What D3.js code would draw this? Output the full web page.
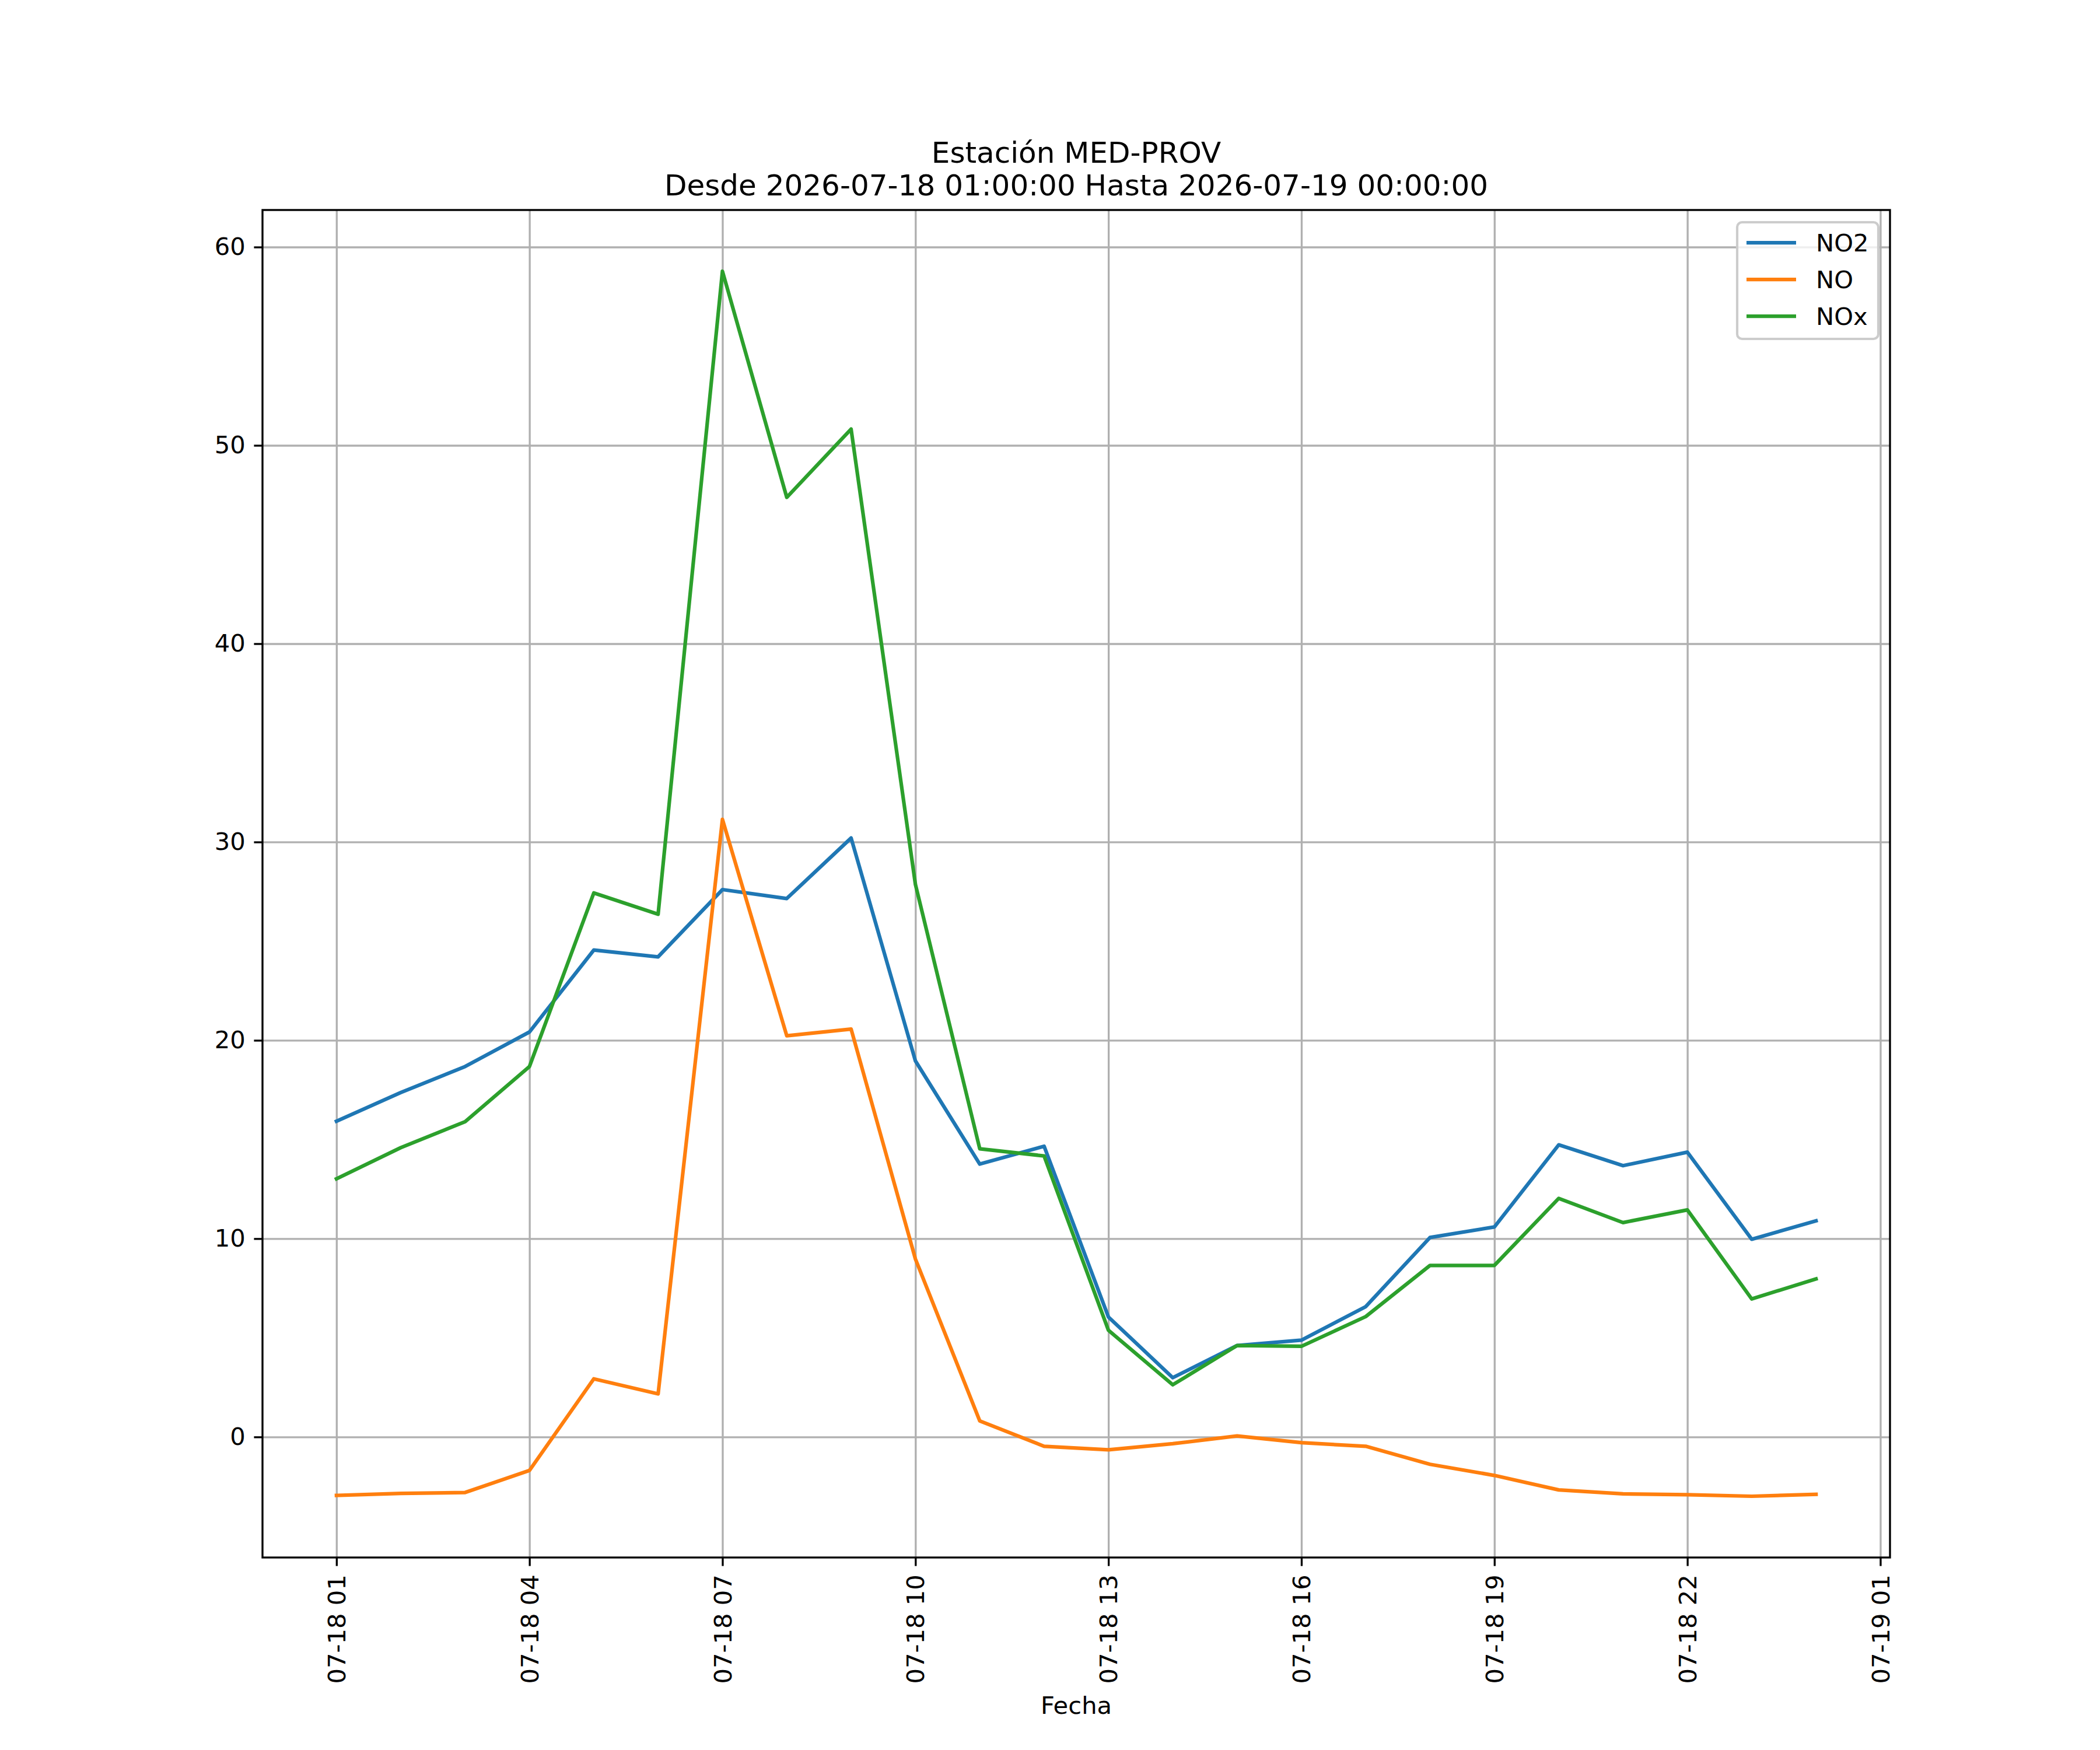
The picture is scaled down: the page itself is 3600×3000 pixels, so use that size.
<!DOCTYPE html>
<html>
<head>
<meta charset="utf-8">
<script src="https://cdn.jsdelivr.net/npm/d3@7"></script>
<style>
  body { margin: 0; background: #fff; }
  text { font-family: "DejaVu Sans", sans-serif; }
</style>
</head>
<body>
<svg id="chart"></svg>
<script>
// hourly timestamps (UTC)
const hours = [
  "2026-07-18T01:00Z", "2026-07-18T02:00Z", "2026-07-18T03:00Z", "2026-07-18T04:00Z",
  "2026-07-18T05:00Z", "2026-07-18T06:00Z", "2026-07-18T07:00Z", "2026-07-18T08:00Z",
  "2026-07-18T09:00Z", "2026-07-18T10:00Z", "2026-07-18T11:00Z", "2026-07-18T12:00Z",
  "2026-07-18T13:00Z", "2026-07-18T14:00Z", "2026-07-18T15:00Z", "2026-07-18T16:00Z",
  "2026-07-18T17:00Z", "2026-07-18T18:00Z", "2026-07-18T19:00Z", "2026-07-18T20:00Z",
  "2026-07-18T21:00Z", "2026-07-18T22:00Z", "2026-07-18T23:00Z", "2026-07-19T00:00Z"
];
const no2 = [15.92, 17.37, 18.68, 20.42, 24.55, 24.21, 27.6, 27.15, 30.2, 18.96, 13.76, 14.66,
             6.05, 2.99, 4.61, 4.88, 6.57, 10.06, 10.59, 14.73, 13.68, 14.36, 9.97, 10.9];
const no = [-2.95, -2.85, -2.8, -1.69, 2.93, 2.17, 31.14, 20.23, 20.57, 8.97, 0.81, -0.47,
            -0.65, -0.34, 0.05, -0.29, -0.47, -1.38, -1.94, -2.67, -2.87, -2.91, -2.99, -2.89];
const nox = [13.02, 14.59, 15.9, 18.68, 27.43, 26.36, 58.78, 47.38, 50.82, 27.86, 14.53, 14.17,
             5.38, 2.63, 4.61, 4.57, 6.07, 8.65, 8.65, 12.03, 10.81, 11.45, 6.96, 7.97];
const seriesNames = ["NO2", "NO", "NOx"];
const yTicks = [0, 10, 20, 30, 40, 50, 60];
const xTicks = ["2026-07-18T01:00Z", "2026-07-18T04:00Z", "2026-07-18T07:00Z", "2026-07-18T10:00Z",
                "2026-07-18T13:00Z", "2026-07-18T16:00Z", "2026-07-18T19:00Z", "2026-07-18T22:00Z",
                "2026-07-19T01:00Z"];
const titleLines = ["Estación MED-PROV", "Desde 2026-07-18 01:00:00 Hasta 2026-07-19 00:00:00"];
const xLabel = "Fecha";

const W = 3600, H = 3000;
const pt = 300 / 72;
const m = { left: 450, right: 3240, top: 360, bottom: 2670 };
const colors = ["#1f77b4", "#ff7f0e", "#2ca02c"];
const fs = 10 * pt;

const svg = d3.select("#chart").attr("width", W).attr("height", H);

const times = hours.map(h => new Date(h));
const allSeries = [no2, no, nox];

// matplotlib style 5% margins
const tExt = d3.extent(times);
const tPad = (tExt[1] - tExt[0]) * 0.05;
const x = d3.scaleUtc()
  .domain([new Date(+tExt[0] - tPad), new Date(+tExt[1] + tPad)])
  .range([m.left, m.right]);

const yExt = d3.extent(allSeries.flat());
const yPad = (yExt[1] - yExt[0]) * 0.05;
const y = d3.scaleLinear()
  .domain([yExt[0] - yPad, yExt[1] + yPad])
  .range([m.bottom, m.top]);

const xTickDates = xTicks.map(d => new Date(d));
const fmt = d3.utcFormat("%m-%d %H");

// grid
const gridX = svg.append("g")
  .attr("transform", "translate(0," + m.bottom + ")")
  .call(d3.axisBottom(x).tickValues(xTickDates).tickSize(-(m.bottom - m.top)).tickFormat(""));
const gridY = svg.append("g")
  .attr("transform", "translate(" + m.left + ",0)")
  .call(d3.axisLeft(y).tickValues(yTicks).tickSize(-(m.right - m.left)).tickFormat(""));
[gridX, gridY].forEach(g => {
  g.select(".domain").remove();
  g.selectAll("line").attr("stroke", "#b0b0b0").attr("stroke-width", 0.8 * pt);
});

// lines
const line = d3.line()
  .x((d, i) => x(times[i]))
  .y(d => y(d));

svg.append("g").selectAll("path")
  .data(allSeries)
  .enter()
  .append("path")
  .attr("d", d => line(d))
  .attr("fill", "none")
  .attr("stroke", (d, i) => colors[i])
  .attr("stroke-width", 1.5 * pt)
  .attr("stroke-linejoin", "round")
  .attr("stroke-linecap", "square");

// spines
svg.append("rect")
  .attr("x", m.left).attr("y", m.top)
  .attr("width", m.right - m.left).attr("height", m.bottom - m.top)
  .attr("fill", "none").attr("stroke", "#000").attr("stroke-width", 0.8 * pt);

// x axis
const xAxis = svg.append("g")
  .attr("transform", "translate(0," + m.bottom + ")")
  .call(d3.axisBottom(x).tickValues(xTickDates).tickSizeInner(3.5 * pt).tickSizeOuter(0).tickFormat(""));
xAxis.select(".domain").remove();
xAxis.selectAll("line").attr("stroke", "#000").attr("stroke-width", 0.8 * pt);
xAxis.selectAll(".tick").append("text")
  .attr("transform", "translate(0," + (7 * pt) + ") rotate(-90)")
  .attr("text-anchor", "end")
  .attr("dy", "0.35em")
  .attr("fill", "#000")
  .attr("font-size", fs)
  .text(d => fmt(d));

// y axis
const yAxis = svg.append("g")
  .attr("transform", "translate(" + m.left + ",0)")
  .call(d3.axisLeft(y).tickValues(yTicks).tickSizeInner(3.5 * pt).tickSizeOuter(0).tickPadding(3.5 * pt));
yAxis.select(".domain").remove();
yAxis.selectAll("line").attr("stroke", "#000").attr("stroke-width", 0.8 * pt);
yAxis.selectAll("text")
  .attr("fill", "#000")
  .attr("font-size", fs)
  .attr("font-family", "DejaVu Sans, sans-serif");

// x label
svg.append("text")
  .attr("x", (m.left + m.right) / 2)
  .attr("y", 2938)
  .attr("text-anchor", "middle")
  .attr("font-size", fs)
  .text(xLabel);

// title
svg.append("g").selectAll("text")
  .data(titleLines)
  .enter()
  .append("text")
  .attr("x", (m.left + m.right) / 2)
  .attr("y", (d, i) => m.top - 6 * pt - (titleLines.length - 1 - i) * 56)
  .attr("text-anchor", "middle")
  .attr("font-size", 12 * pt)
  .text(d => d);

// legend
const lg = { x0: 2978, y0: 381, w: 242, h: 200 };
const legend = svg.append("g");
legend.append("rect")
  .attr("x", lg.x0).attr("y", lg.y0)
  .attr("width", lg.w).attr("height", lg.h)
  .attr("rx", 0.2 * fs).attr("ry", 0.2 * fs)
  .attr("fill", "#fff").attr("fill-opacity", 0.8)
  .attr("stroke", "#cccccc").attr("stroke-width", 1.0 * pt);
const rows = legend.selectAll("g.row")
  .data(seriesNames)
  .enter()
  .append("g")
  .attr("class", "row")
  .attr("transform", (d, i) => "translate(0," + (416 + i * 63) + ")");
rows.append("line")
  .attr("x1", 2994).attr("x2", 3079)
  .attr("stroke", (d, i) => colors[i])
  .attr("stroke-width", 1.5 * pt);
rows.append("text")
  .attr("x", 3113)
  .attr("dy", "0.35em")
  .attr("font-size", fs)
  .text(d => d);
</script>
</body>
</html>
